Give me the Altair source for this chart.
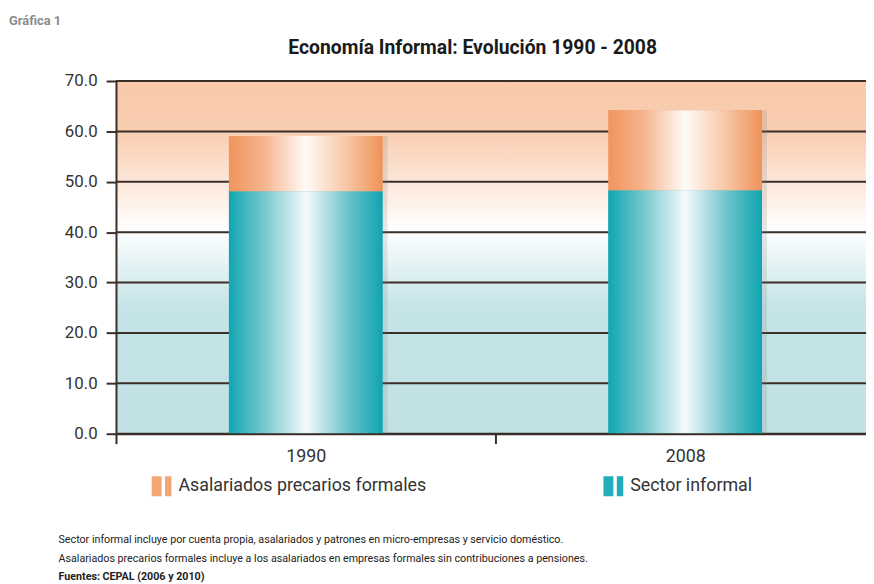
import altair as alt
import pandas as pd

# ---- data ----
years = ["1990", "2008"]
sector_informal = [48.1, 48.3]
asalariados_precarios = [11.0, 15.9]
series_names = ["Asalariados precarios formales", "Sector informal"]
y_ticks = [0, 10, 20, 30, 40, 50, 60, 70]
bg_low = [0]
bg_high = [70]

title_text = "Economía Informal: Evolución 1990 - 2008"
label_top = "Gráfica 1"
note_lines = [
    "Sector informal incluye por cuenta propia, asalariados y patrones en micro-empresas y servicio doméstico.",
    "Asalariados precarios formales incluye a los asalariados en empresas formales sin contribuciones a pensiones.",
]
source_line = "Fuentes: CEPAL (2006 y 2010)"

FONT = "Roboto"
LINE = "#3a2e28"

rows = []
for yr, inf, pre in zip(years, sector_informal, asalariados_precarios):
    rows.append({"year": yr, "series": "Sector informal", "start": 0.0, "end": inf})
    rows.append({"year": yr, "series": "Asalariados precarios formales", "start": inf, "end": inf + pre})
bars_df = pd.DataFrame(rows)
totals_df = pd.DataFrame({"year": years,
                          "total": [a + b for a, b in zip(sector_informal, asalariados_precarios)]})
bg_df = pd.DataFrame({"lo": bg_low, "hi": bg_high})
grid_df = pd.DataFrame({"v": y_ticks})
dummy = pd.DataFrame({"k": [0]})

def G(x1, y1, x2, y2, stops):
    return alt.Gradient(gradient="linear", x1=x1, y1=y1, x2=x2, y2=y2,
                        stops=[alt.GradientStop(offset=o, color=c) for o, c in stops])

bg_grad = G(0, 0, 0, 1, [(0, "#f8caab"), (0.143, "#f9cdb0"), (0.42, "#ffffff"),
                         (0.64, "#c5e4e8"), (1, "#c1e1e5")])
orange_grad = G(0, 0, 1, 0, [(0, "#f0955d"), (0.22, "#f5b28a"), (0.5, "#fffbf7"),
                             (0.78, "#f7c3a1"), (1, "#ef9258")])
teal_grad = G(0, 0, 1, 0, [(0, "#10a6b2"), (0.22, "#72c6cd"), (0.5, "#f4fbfc"),
                           (0.78, "#6ac2c9"), (1, "#0fa4b0")])

xenc = alt.X("year:N", scale=alt.Scale(domain=years, paddingInner=0, paddingOuter=0,
                                       range=[0, 766]),
             axis=alt.Axis(title=None, labelAngle=0, tickBand="extent", tickSize=10,
                           tickWidth=2, tickColor=LINE, domainColor=LINE, domainWidth=2,
                           labelFont=FONT, labelFontSize=18, labelColor="#333333",
                           labelPadding=4, zindex=1))
yscale = alt.Scale(domain=[0, 70], nice=False)
yaxis = alt.Axis(title=None, values=y_ticks, format=".1f", grid=False, tickSize=10,
                 tickWidth=2, tickColor=LINE, domainColor=LINE, domainWidth=2,
                 labelFont=FONT, labelFontSize=17, labelColor="#333333", labelPadding=9,
                 zindex=1)

bg = alt.Chart(bg_df).mark_rect(fill=bg_grad).encode(
    y=alt.Y("lo:Q", scale=yscale, axis=yaxis), y2="hi:Q")

grid = alt.Chart(grid_df).mark_rule(color=LINE, strokeWidth=2).encode(
    y=alt.Y("v:Q", scale=yscale))

shadow = alt.Chart(totals_df).mark_bar(size=155, xOffset=5, color="#7a7a7a", opacity=0.18).encode(
    x=xenc, y=alt.Y("total:Q", scale=yscale))

bars_legend = alt.Chart(bars_df).mark_bar(size=155).encode(
    x=xenc,
    y=alt.Y("start:Q", scale=yscale),
    y2="end:Q",
    color=alt.Color("series:N",
                    scale=alt.Scale(domain=series_names, range=["#f3a574", "#22aeb9"]),
                    legend=alt.Legend(title=None, orient="none", legendX=36, legendY=399,
                                      direction="horizontal", columns=2, columnPadding=178,
                                      symbolType="M-1,-1H0V1H-1Z M0.35,-1H1V1H0.35Z",
                                      symbolSize=400, symbolStrokeWidth=0, symbolOpacity=1,
                                      labelFont=FONT, labelFontSize=18, labelColor="#333333",
                                      labelOffset=7, labelLimit=400, padding=0)),
)

bars_grad = alt.Chart(bars_df).mark_bar(size=155).encode(
    x=xenc,
    y=alt.Y("start:Q", scale=yscale),
    y2="end:Q",
    fill=alt.condition(alt.datum.series == "Sector informal",
                       alt.value(teal_grad), alt.value(orange_grad)),
)

title = alt.Chart(dummy).mark_text(align="center", baseline="middle", font=FONT, fontSize=19.5,
                                   fontWeight="bold", color="#1a1a1a").encode(
    x=alt.value(360), y=alt.value(-33), text=alt.value(title_text))

notes = alt.Chart(dummy).mark_text(align="left", baseline="middle", font=FONT, fontSize=10.8,
                                   color="#222222", lineHeight=19).encode(
    x=alt.value(-58), y=alt.value(463), text=alt.value(note_lines))

source = alt.Chart(dummy).mark_text(align="left", baseline="middle", font=FONT, fontSize=10.8,
                                    fontWeight="bold", color="#222222").encode(
    x=alt.value(-58), y=alt.value(501), text=alt.value(source_line))

grafica = alt.Chart(dummy).mark_text(align="left", baseline="middle", font=FONT, fontSize=13,
                                     fontWeight="bold", color="#8c8c8c").encode(
    x=alt.value(-108), y=alt.value(-61), text=alt.value(label_top))

chart = alt.layer(bg, grid, shadow, bars_legend, bars_grad, title, notes, source, grafica).properties(
    width=757, height=356,
    padding={"left": 109, "top": 71, "right": 0, "bottom": 149},
    autosize=alt.AutoSizeParams(type="none"),
).configure_view(stroke=None)

chart.save("out.html", embed_options={"renderer": "svg", "actions": False})
